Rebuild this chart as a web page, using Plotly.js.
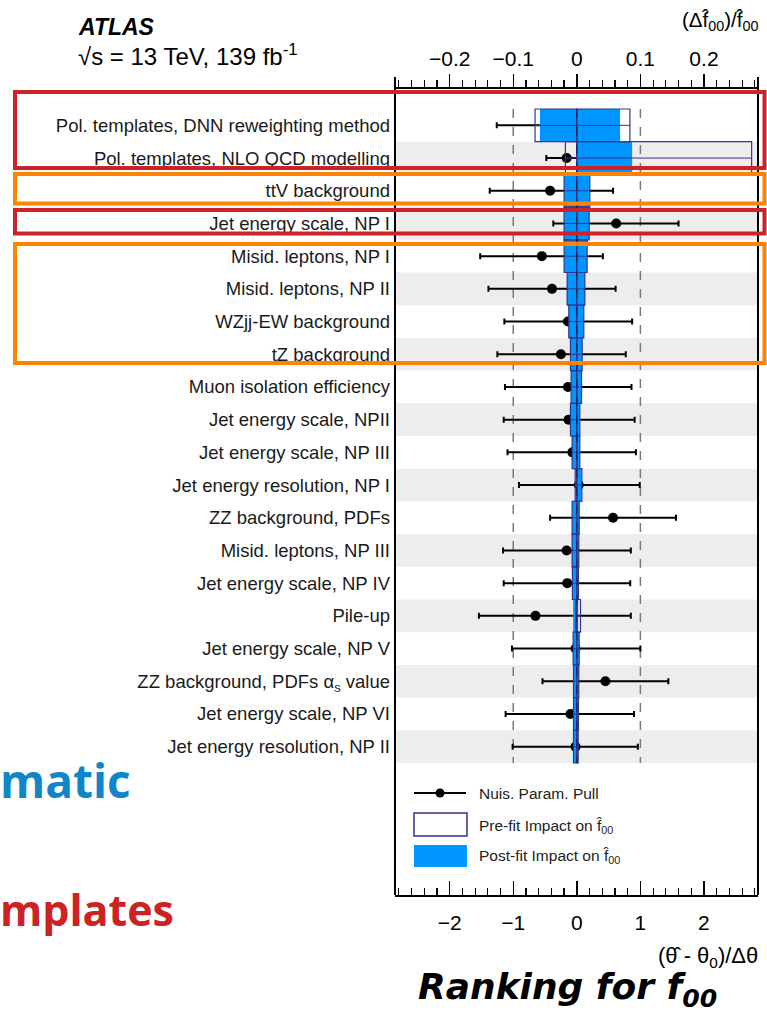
<!DOCTYPE html>
<html>
<head>
<meta charset="utf-8">
<script src="https://cdn.plot.ly/plotly-3.0.1.min.js"></script>
<style>
  html, body { margin: 0; padding: 0; background: #ffffff; }
  #chart { width: 767px; height: 1012px; }
</style>
</head>
<body>
<div id="chart"></div>
<script>
// Nuisance parameters, ranked by impact on f00 (top = largest)
const labels = [
  "Pol. templates, DNN reweighting method",
  "Pol. templates, NLO QCD modelling",
  "ttV background",
  "Jet energy scale, NP I",
  "Misid. leptons, NP I",
  "Misid. leptons, NP II",
  "WZjj-EW background",
  "tZ background",
  "Muon isolation efficiency",
  "Jet energy scale, NPII",
  "Jet energy scale, NP III",
  "Jet energy resolution, NP I",
  "ZZ background, PDFs",
  "Misid. leptons, NP III",
  "Jet energy scale, NP IV",
  "Pile-up",
  "Jet energy scale, NP V",
  "ZZ background, PDFs &#945;<sub>s</sub> value",
  "Jet energy scale, NP VI",
  "Jet energy resolution, NP II"
];

// Pulls (theta_hat - theta_0)/Delta theta with asymmetric post-fit errors
const pull      = [-0.41, -0.16, -0.42, 0.62, -0.55, -0.39, -0.14, -0.25, -0.14, -0.13, -0.07, 0.03, 0.57, -0.16, -0.15, -0.65, -0.02, 0.45, -0.10, -0.02];
const pullErrLo = [0.85, 0.32, 0.95, 0.99, 0.97, 1.00, 1.00, 1.00, 0.99, 1.02, 1.02, 0.94, 0.99, 1.00, 1.00, 0.89, 1.00, 0.99, 1.02, 0.99];
const pullErrHi = [0.88, 0.45, 0.99, 0.98, 0.96, 1.00, 1.01, 1.02, 1.00, 1.04, 1.00, 0.96, 0.99, 1.01, 0.99, 1.50, 1.02, 0.99, 1.00, 0.98];

// Impact on f00 (relative), positive and negative side
const postUp   = [0.068, 0.087, 0.0205, 0.0194, 0.0162, 0.0126, 0.0110, 0.0084, 0.0074, 0.0047, 0.0047, 0.0070, 0.0037, 0.0031, 0.0026, 0.0021, 0.0037, 0.0031, 0.0026, 0.0021];
const postDown = [-0.058, -0.001, -0.0200, -0.0200, -0.0200, -0.0152, -0.0126, -0.0100, -0.0090, -0.0100, -0.0074, -0.0020, -0.0074, -0.0074, -0.0070, -0.0058, -0.0058, -0.0052, -0.0052, -0.0052];
const preUp    = [0.0835, 0.275, 0.0205, 0.0194, 0.0162, 0.0126, 0.0110, 0.0084, 0.0074, 0.0047, 0.0047, 0.0079, 0.0037, 0.0031, 0.0026, 0.0058, 0.0037, 0.0031, 0.0026, 0.0021];
const preDown  = [-0.0657, -0.018, -0.0200, -0.0200, -0.0200, -0.0152, -0.0126, -0.0100, -0.0090, -0.0100, -0.0074, -0.0026, -0.0074, -0.0074, -0.0070, -0.0016, -0.0058, -0.0052, -0.0052, -0.0052];

const pullTicks   = [-2, -1, 0, 1, 2];
const impactTicks = [-0.2, -0.1, 0, 0.1, 0.2];

// ---- styling / geometry ----
const W = 767, H = 1012;
const M = { l: 395, r: 9, t: 89, b: 117 };
const BLUE = "#0096ff";
const NAVY = "#35358a";
const FONT = "Liberation Sans, Arial, Helvetica, sans-serif";
const rowPx = 32.7, row0Px = 125.35;
const plotH = H - M.t - M.b;
const yTop = (M.t - row0Px) / rowPx;
const yBot = yTop + plotH / rowPx;

const px = x => (x - M.l) / (W - M.l - M.r);
const py = y => (H - M.b - y) / plotH;

const rows = labels.map((_, i) => i);

// pre-fit centre line segments
const preLineX = [], preLineY = [];
rows.forEach(i => { preLineX.push(preDown[i], preUp[i], null); preLineY.push(i, i, null); });

const barCommon = { type: "bar", orientation: "h", base: 0, width: 1, xaxis: "x2", yaxis: "y",
                    showlegend: false, hoverinfo: "skip" };

const data = [
  Object.assign({}, barCommon, { x: postUp,   y: rows, marker: { color: BLUE, line: { width: 0 } } }),
  Object.assign({}, barCommon, { x: postDown, y: rows, marker: { color: BLUE, line: { width: 0 } } }),
  Object.assign({}, barCommon, { x: preUp,    y: rows, marker: { color: "rgba(0,0,0,0)", line: { color: NAVY, width: 1.2 } } }),
  Object.assign({}, barCommon, { x: preDown,  y: rows, marker: { color: "rgba(0,0,0,0)", line: { color: NAVY, width: 1.2 } } }),
  { type: "scatter", mode: "lines", x: preLineX, y: preLineY, xaxis: "x2", yaxis: "y",
    line: { color: NAVY, width: 1 }, showlegend: false, hoverinfo: "skip" },
  { type: "scatter", mode: "markers", x: pull, y: rows, xaxis: "x", yaxis: "y",
    marker: { color: "#000", size: 10 },
    error_x: { type: "data", symmetric: false, array: pullErrHi, arrayminus: pullErrLo,
               color: "#000", thickness: 2, width: 3 },
    showlegend: false, hoverinfo: "skip" }
];

// alternating grey bands
const shapes = [];
rows.forEach(i => {
  if (i % 2 === 1) shapes.push({ type: "rect", layer: "below", xref: "paper", yref: "y",
    x0: 0, x1: 1, y0: i - 0.5, y1: i + 0.5, fillcolor: "#ededed", line: { width: 0 } });
});
// +-1 sigma guide lines
[-1, 1].forEach(v => shapes.push({ type: "line", layer: "below", xref: "x", yref: "y",
  x0: v, x1: v, y0: -0.5, y1: rows.length - 0.5, line: { color: "#7a7a7a", width: 1.5, dash: "dash" } }));
// zero line over the bars
shapes.push({ type: "line", layer: "above", xref: "x", yref: "y",
  x0: 0, x1: 0, y0: -0.5, y1: rows.length - 0.5, line: { color: "#1c2450", width: 1.2, dash: "dash" } });
// frame sides
const ext = 12 / plotH;
[0, 1].forEach(xv => shapes.push({ type: "line", xref: "paper", yref: "paper",
  x0: xv, x1: xv, y0: 0, y1: 1 + ext, line: { color: "#000", width: 2 } }));

// legend symbols
shapes.push({ type: "line", xref: "paper", yref: "paper", x0: px(414), x1: px(466), y0: py(793), y1: py(793),
  line: { color: "#000", width: 2 } });
shapes.push({ type: "circle", xref: "paper", yref: "paper", x0: px(435.5), x1: px(444.5), y0: py(797.5), y1: py(788.5),
  fillcolor: "#000", line: { color: "#000", width: 0 } });
shapes.push({ type: "rect", xref: "paper", yref: "paper", x0: px(414), x1: px(467), y0: py(836), y1: py(813),
  fillcolor: "#fff", line: { color: NAVY, width: 1.5 } });
shapes.push({ type: "rect", xref: "paper", yref: "paper", x0: px(414), x1: px(467), y0: py(867), y1: py(845),
  fillcolor: BLUE, line: { width: 0 } });

// highlight boxes
const boxes = [
  { y0: 92, y1: 168, c: "#cc2228" },
  { y0: 174, y1: 203.5, c: "#ff8200" },
  { y0: 210, y1: 233.5, c: "#cc2228" },
  { y0: 244, y1: 363, c: "#ff8200" }
];
boxes.forEach(b => shapes.push({ type: "rect", layer: "above", xref: "paper", yref: "paper",
  x0: px(15), x1: px(764.5), y0: py(b.y1), y1: py(b.y0), fillcolor: "rgba(0,0,0,0)",
  line: { color: b.c, width: 4 } }));

const ann = (x, y, text, opts) => Object.assign({ xref: "paper", yref: "paper", x: px(x), y: py(y),
  text: text, showarrow: false, xanchor: "left", yanchor: "middle",
  font: { family: FONT, size: 15.5, color: "#222" } }, opts || {});

const annotations = [
  ann(477, 793, "Nuis. Param. Pull"),
  ann(477, 826, "Pre-fit Impact on f&#770;<sub>00</sub>"),
  ann(477, 856, "Post-fit Impact on f&#770;<sub>00</sub>"),
  ann(76, 27, "<b><i>ATLAS</i></b>", { font: { family: FONT, size: 23, color: "#000" } }),
  ann(76, 55, "&#8730;s = 13 TeV, 139 fb<sup>-1</sup>", { font: { family: FONT, size: 24, color: "#000" } }),
  ann(760, 21, "(&#916;f&#770;<sub>00</sub>)/f&#770;<sub>00</sub>", { xanchor: "right", font: { family: FONT, size: 20.5, color: "#000" } }),
  ann(760, 957, "(&#952;&#770; - &#952;<sub>0</sub>)/&#916;&#952;", { xanchor: "right", font: { family: FONT, size: 22, color: "#000" } }),
  ann(-2, 780, "<b>matic</b>", { font: { family: "Open Sans, sans-serif", size: 46, color: "#0e86c8" } }),
  ann(-2, 909, "<b>mplates</b>", { font: { family: "Open Sans, sans-serif", size: 43, color: "#cc2222" } }),
  ann(416, 989, "<b><i>Ranking for f<sub>00</sub></i></b>", { font: { family: "DejaVu Sans, sans-serif", size: 36, color: "#000" } })
];

const layout = {
  width: W, height: H,
  margin: M,
  paper_bgcolor: "#fff", plot_bgcolor: "#fff",
  barmode: "overlay",
  showlegend: false,
  xaxis: {
    range: [-2.86, 2.85], side: "bottom", anchor: "y",
    tickvals: pullTicks, ticks: "inside", ticklen: 14, tickwidth: 1.5, tickcolor: "#000",
    minor: { dtick: 0.2, ticks: "inside", ticklen: 7, tickwidth: 1.2, tickcolor: "#000" },
    showline: true, linecolor: "#000", linewidth: 2, showgrid: false, zeroline: false,
    tickfont: { family: FONT, size: 21, color: "#000" }, ticklabelstandoff: 8
  },
  xaxis2: {
    range: [-0.286, 0.285], side: "top", overlaying: "x", anchor: "y",
    tickvals: impactTicks, ticks: "outside", ticklen: 13, tickwidth: 1.5, tickcolor: "#000",
    minor: { dtick: 0.02, ticks: "outside", ticklen: 7, tickwidth: 1.2, tickcolor: "#000" },
    showline: true, linecolor: "#000", linewidth: 2, showgrid: false, zeroline: false,
    tickfont: { family: FONT, size: 21, color: "#000" }, ticklabelstandoff: 0
  },
  yaxis: {
    range: [yBot, yTop], autorange: false,
    tickvals: rows, ticktext: labels, ticks: "", showline: false, showgrid: false, zeroline: false,
    tickfont: { family: FONT, size: 18.5, color: "#1a1a1a" }, ticklabelstandoff: 4
  },
  shapes: shapes,
  annotations: annotations
};

Plotly.newPlot("chart", data, layout, { staticPlot: true, displayModeBar: false });
</script>
</body>
</html>
